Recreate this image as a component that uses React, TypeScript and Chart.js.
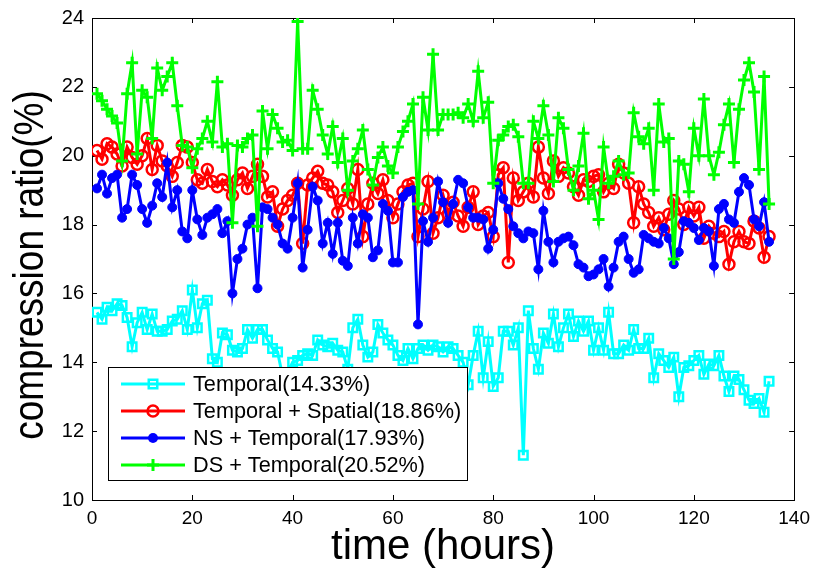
import React, { useEffect, useRef } from "react";
import { Chart, registerables } from "chart.js";

Chart.register(...registerables);

// time axis: hourly samples
const HOURS: number[] = Array.from({ length: 135 }, (_, i) => i + 1);

const TEMPORAL: number[] = [
  15.45, 15.25, 15.6, 15.5, 15.7, 15.65, 15.3, 14.45, 15.15, 15.45,
  14.95, 15.4, 14.9, 14.9, 14.95, 15.2, 15.25, 15.5, 14.95, 16.1,
  15.0, 15.7, 15.8, 14.1, 14.0, 14.85, 14.8, 14.35, 14.3, 14.4,
  14.95, 14.7, 14.95, 14.95, 14.65, 14.4, 14.3, 13.6, 13.7, 14.0,
  14.05, 14.2, 14.25, 14.2, 14.65, 14.5, 14.45, 14.55, 14.35, 14.3,
  13.8, 15.0, 15.25, 14.5, 14.15, 14.3, 15.1, 14.85, 14.65, 14.5,
  14.2, 14.05, 14.4, 14.1, 14.4, 14.5, 14.35, 14.5, 14.45, 14.3,
  14.45, 14.4, 14.2, 14.0, 13.35, 14.2, 14.9, 13.55, 14.6, 13.3,
  13.55, 14.9, 14.9, 14.5, 15.0, 11.3, 15.5, 14.4, 13.8, 14.85,
  14.55, 15.4, 14.45, 15.0, 15.4, 14.75, 15.2, 14.9, 15.2, 14.35,
  15.0, 14.35, 15.45, 14.25, 14.25, 14.5, 14.35, 14.95, 14.4, 14.4,
  14.7, 13.55, 14.25, 14.05, 13.85, 14.15, 13.0, 13.85, 13.9, 14.05,
  14.2, 13.65, 13.95, 13.9, 14.2, 13.6, 13.15, 13.6, 13.5, 13.2,
  12.9, 12.8, 12.95, 12.55, 13.45,
];

const TEMPORAL_SPATIAL: number[] = [
  20.15, 19.9, 20.35, 20.25, 20.05, 19.7, 20.25, 19.95, 19.75, 20.0,
  20.5, 19.6, 20.3, 19.85, 19.7, 19.4, 19.8, 20.3, 20.25, 19.8,
  19.3, 19.2, 19.6, 19.25, 19.1, 19.3, 19.15, 18.85, 19.3, 19.5,
  19.05, 19.4, 19.75, 19.4, 18.8, 18.95, 17.95, 18.45, 18.7, 18.85,
  19.2, 17.45, 19.15, 19.35, 19.55, 19.2, 19.15, 18.95, 18.35, 18.7,
  19.05, 18.6, 19.6, 17.65, 18.6, 19.2, 18.9, 19.3, 18.7, 18.2,
  18.6, 18.95, 19.15, 19.2, 17.65, 18.45, 19.25, 17.75, 18.2, 18.85,
  18.3, 18.65, 18.25, 17.95, 18.5, 18.95, 18.0, 18.25, 18.35, 17.65,
  19.45, 19.65, 16.9, 19.35, 18.7, 18.95, 19.2, 18.8, 20.25, 19.35,
  18.9, 19.85, 19.4, 19.65, 19.5, 19.1, 18.85, 19.3, 19.25, 19.4,
  19.45, 18.95, 19.2, 19.05, 19.75, 19.5, 19.2, 18.05, 19.1, 18.6,
  18.35, 17.95, 18.2, 17.85, 18.3, 18.7, 18.45, 18.0, 18.5, 18.25,
  18.5, 17.6, 17.95, 17.75, 17.65, 17.8, 16.85, 17.5, 17.8, 17.5,
  17.45, 18.1, 17.9, 17.05, 17.65,
];

const NS_TEMPORAL: number[] = [
  19.05, 19.45, 18.9, 19.35, 19.45, 18.2, 18.45, 19.45, 19.15, 18.45,
  18.05, 18.55, 19.2, 18.8, 19.8, 18.5, 19.0, 17.8, 17.6, 19.0,
  18.15, 17.7, 18.2, 18.3, 18.45, 17.75, 18.1, 16.0, 17.0, 17.3,
  18.0, 18.2, 16.15, 18.5, 18.45, 18.2, 18.0, 17.45, 17.3, 18.2,
  19.2, 16.75, 17.85, 19.1, 18.7, 17.45, 18.05, 17.15, 18.05, 16.95,
  16.8, 18.2, 17.45, 18.3, 18.2, 17.05, 17.25, 18.6, 18.4, 16.9,
  16.9, 18.8, 18.95, 19.0, 15.1, 18.1, 17.5, 18.2, 19.25, 18.65,
  18.05, 18.6, 19.3, 19.2, 18.5, 18.2, 18.2, 18.15, 17.3, 17.85,
  19.2, 18.75, 18.45, 17.95, 17.75, 17.6, 17.8, 17.75, 16.7, 18.4,
  17.5, 16.9, 17.5, 17.6, 17.65, 17.4, 16.85, 16.75, 16.5, 16.55,
  16.7, 17.0, 16.2, 16.75, 17.5, 17.65, 17.0, 16.6, 16.7, 17.7,
  17.6, 17.5, 17.45, 17.9, 17.6, 16.85, 17.2, 18.1, 18.05, 17.9,
  17.55, 17.9, 17.8, 16.8, 18.45, 18.6, 18.15, 18.05, 18.95, 19.35,
  19.15, 18.15, 17.95, 18.65, 17.5,
];

const DS_TEMPORAL: number[] = [
  21.8, 21.6, 21.35, 21.15, 20.95, 19.85, 21.8, 22.7, 20.05, 21.9,
  21.7, 20.5, 22.55, 21.9, 22.3, 22.7, 21.45, 20.3, 20.25, 19.65,
  20.2, 20.5, 21.0, 20.4, 22.15, 20.25, 20.35, 18.05, 20.3, 20.25,
  20.5, 20.6, 17.95, 21.3, 20.2, 21.2, 20.8, 20.4, 20.45, 20.15,
  23.9, 20.2, 20.2, 21.9, 21.35, 20.6, 20.05, 20.85, 19.8, 20.5,
  19.0, 19.85, 20.2, 20.75, 19.6, 19.15, 19.95, 20.25, 19.7, 19.5,
  20.25, 20.7, 21.0, 21.5, 18.6, 21.7, 20.75, 22.95, 20.75, 21.2,
  21.2, 21.2, 21.25, 21.1, 21.5, 21.0, 22.45, 21.1, 21.55, 19.2,
  20.45, 20.6, 20.85, 20.9, 20.55, 19.2, 19.2, 21.0, 20.5, 21.45,
  20.6, 19.25, 21.1, 20.8, 19.6, 19.0, 19.7, 20.65, 18.75, 19.0,
  18.15, 20.25, 19.2, 19.4, 19.85, 19.45, 19.5, 21.25, 20.55, 20.35,
  20.8, 19.0, 21.5, 20.4, 20.5, 17.0, 19.85, 19.75, 18.95, 20.8,
  20.0, 21.65, 20.0, 19.45, 20.1, 20.9, 21.5, 19.8, 21.35, 22.2,
  22.7, 21.85, 19.6, 22.3, 18.6,
];

const X_TICKS: number[] = [0, 20, 40, 60, 80, 100, 120, 140];
const Y_TICKS: number[] = [10, 12, 14, 16, 18, 20, 22, 24];

const LEGEND_LABELS: string[] = [
  "Temporal(14.33%)",
  "Temporal + Spatial(18.86%)",
  "NS + Temporal(17.93%)",
  "DS + Temporal(20.52%)",
];
const COLORS: string[] = ["#00FFFF", "#FF0000", "#0000FF", "#00FF00"];
const MARKERS: string[] = ["square", "circle", "dot", "plus"];

const FONT = "'Liberation Sans', Arial, Helvetica, sans-serif";

function drawMarker(ctx: CanvasRenderingContext2D, kind: string, x: number, y: number, color: string) {
  ctx.save();
  ctx.strokeStyle = color;
  ctx.fillStyle = color;
  if (kind === "square") {
    ctx.lineWidth = 2.5;
    ctx.strokeRect(x - 4.25, y - 4.25, 8.5, 8.5);
  } else if (kind === "circle") {
    ctx.lineWidth = 2.5;
    ctx.beginPath();
    ctx.arc(x, y, 5.5, 0, Math.PI * 2);
    ctx.stroke();
  } else if (kind === "dot") {
    ctx.beginPath();
    ctx.arc(x, y, 5, 0, Math.PI * 2);
    ctx.fill();
  } else {
    ctx.lineWidth = 3;
    ctx.beginPath();
    ctx.moveTo(x - 6, y);
    ctx.lineTo(x + 6, y);
    ctx.moveTo(x, y - 6);
    ctx.lineTo(x, y + 6);
    ctx.stroke();
  }
  ctx.restore();
}

const framePlugin = {
  id: "matlabFrame",
  beforeDatasetsDraw(chart: any) {
    const { ctx, chartArea, scales } = chart;
    const { left, right, top, bottom } = chartArea;
    ctx.save();
    ctx.strokeStyle = "#000";
    ctx.lineWidth = 1;
    ctx.strokeRect(Math.round(left) + 0.5, Math.round(top) + 0.5, Math.round(right - left), Math.round(bottom - top));
    ctx.beginPath();
    X_TICKS.forEach((v) => {
      const px = Math.round(scales.x.getPixelForValue(v)) + 0.5;
      ctx.moveTo(px, bottom);
      ctx.lineTo(px, bottom - 5);
      ctx.moveTo(px, top);
      ctx.lineTo(px, top + 5);
    });
    Y_TICKS.forEach((v) => {
      const py = Math.round(scales.y.getPixelForValue(v)) + 0.5;
      ctx.moveTo(left, py);
      ctx.lineTo(left + 5, py);
      ctx.moveTo(right, py);
      ctx.lineTo(right - 5, py);
    });
    ctx.stroke();
    ctx.restore();
  },
  afterDatasetsDraw(chart: any) {
    const { ctx } = chart;
    // legend box
    const bx = 108, by = 367, bw = 359, bh = 113;
    ctx.save();
    ctx.fillStyle = "#fff";
    ctx.fillRect(bx, by, bw, bh);
    ctx.strokeStyle = "#000";
    ctx.lineWidth = 1;
    ctx.strokeRect(bx + 0.5, by + 0.5, bw, bh);
    const rows = [384, 411, 438, 465];
    LEGEND_LABELS.forEach((label, i) => {
      const cy = rows[i];
      ctx.strokeStyle = COLORS[i];
      ctx.lineWidth = 3;
      ctx.beginPath();
      ctx.moveTo(121, cy);
      ctx.lineTo(185, cy);
      ctx.stroke();
      drawMarker(ctx, MARKERS[i], 153, cy, COLORS[i]);
      ctx.fillStyle = "#000";
      ctx.font = `21.7px ${FONT}`;
      ctx.textAlign = "left";
      ctx.textBaseline = "middle";
      ctx.fillText(label, 193, cy + 1);
    });
    ctx.restore();
  },
  afterDraw(chart: any) {
    const { ctx } = chart;
    ctx.save();
    ctx.fillStyle = "#000";
    ctx.font = `42px ${FONT}`;
    ctx.textAlign = "center";
    ctx.textBaseline = "alphabetic";
    ctx.fillText("time (hours)", 443, 559);
    ctx.translate(43, 265);
    ctx.rotate(-Math.PI / 2);
    ctx.scale(1, 1.15);
    ctx.font = `37px ${FONT}`;
    ctx.fillText("compression ratio(%)", 0, 0);
    ctx.restore();
  },
};

export default function App() {
  const ref = useRef<HTMLCanvasElement | null>(null);

  useEffect(() => {
    document.body.style.margin = "0";
    const canvas = ref.current;
    if (!canvas) return;

    const mk = (vals: number[]) => HOURS.map((h, i) => ({ x: h, y: vals[i] }));

    const chart = new Chart(canvas, {
      type: "line",
      data: {
        datasets: [
          {
            label: LEGEND_LABELS[0],
            data: mk(TEMPORAL),
            borderColor: COLORS[0],
            backgroundColor: "rgba(0,0,0,0)",
            borderWidth: 3,
            pointStyle: "rect",
            pointRadius: 6,
            pointBorderWidth: 2.5,
            pointBorderColor: COLORS[0],
            pointBackgroundColor: "rgba(0,0,0,0)",
            order: 3,
          },
          {
            label: LEGEND_LABELS[1],
            data: mk(TEMPORAL_SPATIAL),
            borderColor: COLORS[1],
            backgroundColor: "rgba(0,0,0,0)",
            borderWidth: 3,
            pointStyle: "circle",
            pointRadius: 5.5,
            pointBorderWidth: 2.5,
            pointBorderColor: COLORS[1],
            pointBackgroundColor: "rgba(0,0,0,0)",
            order: 2,
          },
          {
            label: LEGEND_LABELS[2],
            data: mk(NS_TEMPORAL),
            borderColor: COLORS[2],
            backgroundColor: COLORS[2],
            borderWidth: 3,
            pointStyle: "circle",
            pointRadius: 4.5,
            pointBorderWidth: 1,
            pointBorderColor: COLORS[2],
            pointBackgroundColor: COLORS[2],
            order: 1,
          },
          {
            label: LEGEND_LABELS[3],
            data: mk(DS_TEMPORAL),
            borderColor: COLORS[3],
            backgroundColor: "rgba(0,0,0,0)",
            borderWidth: 3,
            pointStyle: "cross",
            pointRadius: 6,
            pointBorderWidth: 3,
            pointBorderColor: COLORS[3],
            order: 0,
          },
        ],
      },
      options: {
        responsive: false,
        animation: false,
        devicePixelRatio: 1,
        events: [],
        layout: { padding: { top: 10, right: 21, left: 0, bottom: 0 } },
        plugins: {
          legend: { display: false },
          tooltip: { enabled: false },
        },
        elements: { line: { tension: 0 } },
        scales: {
          x: {
            type: "linear",
            min: 0,
            max: 140,
            afterBuildTicks: (s: any) => {
              s.ticks = X_TICKS.map((v) => ({ value: v }));
            },
            grid: { display: false, drawTicks: false },
            border: { display: false },
            ticks: {
              color: "#000",
              font: { family: FONT, size: 19 },
              padding: 7,
              maxRotation: 0,
              autoSkip: false,
            },
            afterFit: (s: any) => {
              s.height = 71;
            },
          },
          y: {
            type: "linear",
            min: 10,
            max: 24,
            afterBuildTicks: (s: any) => {
              s.ticks = Y_TICKS.map((v) => ({ value: v }));
            },
            grid: { display: false, drawTicks: false },
            border: { display: false },
            ticks: {
              color: "#000",
              font: { family: FONT, size: 20, lineHeight: 1 },
              padding: 8,
              autoSkip: false,
            },
            afterFit: (s: any) => {
              s.width = 92;
            },
          },
        },
      },
      plugins: [framePlugin],
    });

    return () => chart.destroy();
  }, []);

  return (
    <div style={{ width: 817, height: 571 }}>
      <canvas ref={ref} width={817} height={571} style={{ display: "block" }} />
    </div>
  );
}
